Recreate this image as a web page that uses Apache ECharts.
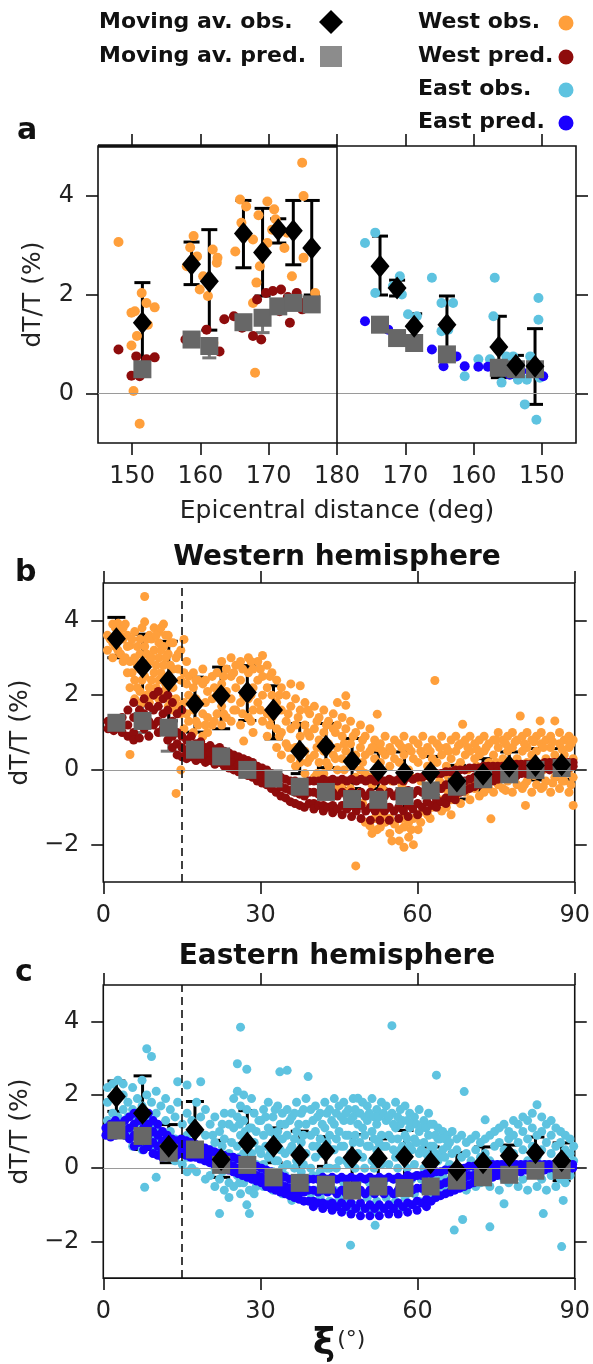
<!DOCTYPE html>
<html>
<head>
<meta charset="utf-8">
<script src="https://cdn.jsdelivr.net/npm/echarts@6/dist/echarts.min.js"></script>
<style>
  html, body { margin: 0; padding: 0; background: #fff; }
  #chart { width: 593px; height: 1364px; }
</style>
</head>
<body>
<div id="chart"></div>
<script>
// panel a: epicentral distance (deg), dT/T (%)
const aWestAvgDist = [151.5, 158.7, 161.3, 166.3, 169.1, 171.4, 173.6, 176.3];
const aWestAvgObs = [1.43, 2.61, 2.27, 3.23, 2.85, 3.31, 3.29, 2.94];
const aWestAvgObsLo = [0.62, 2.20, 1.28, 2.54, 1.97, 3.04, 2.60, 1.99];
const aWestAvgObsHi = [2.24, 3.06, 3.31, 3.90, 3.74, 3.53, 3.90, 3.90];
const aWestAvgPred = [0.49, 1.09, 0.96, 1.44, 1.53, 1.76, 1.83, 1.80];
const aWestAvgPredLo = [0.42, 1.00, 0.72, 1.38, 1.23, 1.70, 1.75, 1.72];
const aWestAvgPredHi = [0.56, 1.16, 1.10, 1.50, 1.62, 1.82, 1.90, 1.88];

const aEastAvgDist = [173.7, 171.2, 168.7, 163.9, 156.3, 153.8, 151.0];
const aEastAvgObs = [2.57, 2.13, 1.36, 1.39, 0.94, 0.57, 0.55];
const aEastAvgObsLo = [1.99, 1.97, 1.12, 0.79, 0.32, 0.35, -0.22];
const aEastAvgObsHi = [3.18, 2.29, 1.61, 1.97, 1.56, 0.77, 1.31];
const aEastAvgPred = [1.39, 1.12, 1.02, 0.79, 0.52, 0.49, 0.49];
const aEastAvgPredLo = [1.33, 1.06, 0.96, 0.73, 0.46, 0.43, 0.43];
const aEastAvgPredHi = [1.45, 1.18, 1.08, 0.85, 0.58, 0.55, 0.55];

const aWestObs = [[148.0,3.06],[150.2,0.05],[151.1,-0.61],[149.9,0.97],[149.9,1.63],[151.4,2.03],[152.1,1.83],[153.3,1.74],[150.7,1.16],[152.3,1.39],[150.4,1.66],[159.0,3.18],[159.5,2.77],[159.9,2.10],[158.0,2.57],[161.8,2.91],[162.5,2.74],[162.4,2.64],[160.4,2.37],[161.1,1.97],[161.9,1.02],[165.8,3.92],[165.1,2.87],[166.7,3.78],[167.7,3.11],[168.2,2.24],[168.0,0.42],[167.7,1.83],[169.8,3.88],[170.8,3.72],[171.0,3.52],[170.5,3.31],[169.8,3.04],[172.3,2.94],[173.4,2.37],[172.7,3.25],[174.9,4.66],[175.1,3.99],[175.1,2.74],[176.8,2.03],[168.7,2.57],[166.0,3.45],[168.5,3.60],[158.5,2.95]];
const aWestPred = [[148.0,0.89],[149.9,0.36],[151.1,0.35],[152.1,0.69],[153.3,0.73],[150.6,0.75],[157.8,1.09],[160.9,1.29],[162.8,0.85],[164.9,1.56],[166.1,1.33],[167.7,1.16],[168.9,1.09],[169.6,2.03],[170.6,2.07],[171.6,1.66],[173.1,1.43],[171.8,2.10],[174.1,2.03],[175.1,1.83],[172.8,1.95],[174.9,1.70],[163.5,1.50],[159.2,1.15],[168.3,1.90]];
const aEastObs = [[175.9,3.04],[174.4,3.25],[174.4,2.03],[170.8,2.37],[170.5,2.00],[168.3,1.56],[166.1,2.34],[164.7,1.83],[163.0,1.83],[164.7,1.26],[161.3,0.35],[159.3,0.69],[156.9,2.34],[157.1,1.56],[157.6,0.69],[155.9,0.22],[154.2,0.75],[153.5,0.28],[152.2,0.28],[152.5,-0.22],[150.8,-0.53],[150.5,1.93],[150.5,1.49],[150.3,0.32],[151.7,0.75],[155.2,0.75],[163.7,1.29],[169.6,1.60],[171.8,2.17]];
const aEastPred = [[175.9,1.46],[172.5,1.29],[166.1,0.89],[164.4,0.55],[162.5,0.75],[161.3,0.55],[159.3,0.54],[157.9,0.54],[154.7,0.38],[149.8,0.35],[151.3,0.49],[173.5,1.35],[170.5,1.10],[168.5,1.00],[156.0,0.50],[153.0,0.45]];

// panels b, c: xi (deg)
const xiBins = [2.5, 7.5, 12.5, 17.5, 22.5, 27.5, 32.5, 37.5, 42.5, 47.5, 52.5, 57.5, 62.5, 67.5, 72.5, 77.5, 82.5, 87.5];

const bAvgObs = [3.51, 2.75, 2.39, 1.76, 1.98, 2.07, 1.60, 0.50, 0.63, 0.23, -0.02, -0.08, -0.08, -0.30, -0.12, 0.10, 0.12, 0.14];
const bAvgObsLo = [3.00, 1.85, 1.31, 1.01, 1.10, 1.32, 0.83, -0.10, 0.06, -0.50, -0.50, -1.00, -0.68, -0.78, -0.54, -0.27, -0.27, -0.25];
const bAvgObsHi = [4.08, 3.63, 3.44, 2.48, 2.75, 2.79, 2.25, 1.24, 1.24, 0.84, 0.48, 0.48, 0.36, 0.12, 0.30, 0.48, 0.57, 0.57];
const bAvgPred = [1.26, 1.31, 1.13, 0.54, 0.36, 0.00, -0.23, -0.45, -0.59, -0.78, -0.80, -0.70, -0.55, -0.45, -0.25, -0.12, 0.00, 0.05];
const bAvgPredLo = [1.18, 1.00, 0.50, 0.45, 0.28, -0.08, -0.30, -0.55, -0.70, -0.90, -0.90, -0.80, -0.65, -0.55, -0.35, -0.20, -0.08, -0.02];
const bAvgPredHi = [1.34, 1.75, 1.85, 0.63, 0.44, 0.08, -0.16, -0.35, -0.48, -0.66, -0.70, -0.60, -0.45, -0.35, -0.15, -0.04, 0.08, 0.12];

const cAvgObs = [1.96, 1.50, 0.60, 1.05, 0.24, 0.69, 0.60, 0.36, 0.47, 0.29, 0.27, 0.31, 0.15, -0.05, 0.15, 0.34, 0.42, 0.20];
const cAvgObsLo = [1.55, 0.51, 0.15, 0.29, -0.25, -0.16, 0.15, -0.25, 0.05, -0.52, -0.25, -0.52, -0.25, -0.48, -0.30, 0.04, -0.03, -0.34];
const cAvgObsHi = [2.38, 2.52, 1.19, 1.82, 0.76, 1.57, 1.10, 1.01, 0.86, 0.92, 0.80, 1.03, 0.58, 0.42, 0.58, 0.63, 0.85, 0.69];
const cAvgPred = [1.03, 0.88, 0.42, 0.51, 0.09, 0.09, -0.25, -0.40, -0.45, -0.61, -0.50, -0.54, -0.50, -0.34, -0.25, -0.18, -0.07, -0.05];

// each row: [xi, dT/T, dT/T, ...]
const bWestObs = [
  [0.8,3.2,3.6],[1.8,3.9,3.0,3.4],[2.8,3.7,3.2,3.92],[3.8,3.5,2.9,3.8],[4.6,3.3,2.6,3.6],
  [5.1,3.33,0.41,2.2,2.9],[6.0,3.0,2.4,3.7,1.9],[7.0,3.5,2.7,2.1,3.1],[7.9,4.64,3.96,3.3,2.5],
  [8.8,3.6,2.9,2.2,1.8],[9.7,3.8,3.2,2.6,2.0],[10.6,3.7,3.0,2.4,1.9,3.4],[11.5,3.9,3.3,2.8,2.1],
  [12.4,3.6,3.1,2.5,1.7],[13.3,3.4,2.7,2.2,1.6],[13.9,-0.63,3.0,1.9],[14.8,0.0,3.2,2.4,1.5],
  [15.4,3.49,2.6,1.8,1.1],[16.3,2.5,2.0,1.3],[17.2,2.2,1.6,1.0,2.6],[18.1,2.4,1.8,1.2],
  [19.0,2.3,1.5,0.9,2.7],[19.9,2.1,1.4,1.0],[20.8,2.5,1.9,1.2,0.35],[21.7,2.6,2.0,1.5],
  [22.6,2.9,2.3,1.7,1.2],[23.5,2.7,2.1,1.4],[24.4,3.0,2.5,1.9,1.3],[25.3,2.8,2.2,1.6],
  [26.2,2.9,2.4,1.8,1.2],[26.8,0.77,2.0],[27.7,3.0,2.6,1.9,1.4],[28.6,2.7,2.2,1.6,1.0],
  [29.5,2.9,2.4,1.8],[30.4,3.06,2.5,2.0,1.3],[31.3,2.8,2.2,1.5,0.9],[32.2,2.6,2.0,1.4],
  [33.1,2.4,1.8,1.1,0.6],[34.0,2.2,1.6,1.0,0.4],[34.9,2.0,1.3,0.7],[35.8,2.3,1.7,1.1,0.3],
  [36.7,1.9,1.2,0.6,0.1],[37.6,2.25,1.6,0.9,0.2],[38.5,1.8,1.2,0.5,-0.1],[39.4,1.5,0.9,0.3],
  [40.3,1.7,1.1,0.4,-0.2],[41.2,1.4,0.8,0.2],[42.1,1.6,1.0,0.5,-0.1],[43.0,1.3,0.7,0.1,-0.3],
  [43.9,1.5,1.1,0.4],[44.7,1.8,1.2,0.6,0.0],[45.6,1.4,0.9,0.3,-0.4],[46.3,1.98,1.73,1.1,0.5],
  [47.2,1.3,0.7,0.2,-0.5],[48.2,-2.57,1.0,0.4,-0.2],[49.1,1.2,0.6,0.0,-0.6],[50.0,0.9,0.4,-0.1,-1.4],
  [50.9,1.1,0.5,-0.2,-1.5],[51.8,0.8,0.3,-1.3],[52.3,1.49,0.6,-1.6],[52.9,-1.53,0.7,0.2],
  [53.8,0.9,0.4,-1.4],[54.7,0.6,0.1,-1.3,-1.7],[55.6,0.8,0.3,-1.45],[56.5,0.7,0.2,-1.6,-1.9],
  [57.4,0.9,0.4,-1.53,-2.07],[58.3,0.6,0.0,-1.8,-1.4],[59.2,0.8,0.3,-2.0,-1.3],[60.1,0.7,0.2,-1.2,-1.6],
  [61.0,0.9,0.4,-1.1],[61.9,0.6,0.1,-1.2],[62.8,0.8,0.3,-1.0,-0.6],[63.3,2.39],[63.7,0.7,0.2,-0.9],
  [64.6,0.9,0.4,-1.1,-0.5],[65.5,0.6,0.1,-1.0],[66.4,0.8,0.3,-0.8,-1.2],[67.3,0.9,0.5,-0.7],
  [68.2,0.7,0.2,-0.9,-0.4],[68.6,1.22],[69.1,0.8,0.4,-0.6],[70.0,0.9,0.5,-0.8,-0.3],[70.9,0.7,0.3,-0.5],
  [71.8,0.8,0.4,-0.7,-0.2],[72.7,0.9,0.5,-0.6],[73.6,0.7,0.2,-0.5,-0.1],[74.0,-1.31],[74.5,0.8,0.4,-0.6],
  [75.4,1.0,0.6,-0.4,0.1],[76.3,0.8,0.3,-0.5],[77.2,0.9,0.5,-0.3,0.0],[78.1,1.0,0.6,-0.6],
  [79.0,0.8,0.3,-0.4,0.1],[79.6,1.44],[80.0,0.9,0.5,-0.5],[80.6,-0.95],[80.9,1.0,0.6,-0.3,0.2],
  [81.8,0.8,0.4,-0.6],[82.7,0.9,0.5,-0.4,0.0],[83.4,1.31],[83.6,1.0,0.7,-0.5],[84.5,0.8,0.3,-0.3,0.1],
  [85.4,0.9,0.6,-0.6],[86.2,1.31,0.4,-0.2],[87.1,1.0,0.7,-0.5,0.1],[88.0,0.8,0.4,-0.3],
  [88.9,0.9,0.6,-0.6,0.0],[89.7,-0.95,0.8,0.3,-0.2],
  // denser part of the cloud
  [1.3,3.5],[2.3,3.3,3.8],[3.3,3.1,3.6],[4.2,3.0,3.9],[5.5,2.6,3.5],[6.5,2.2,3.3,2.8],
  [7.4,1.8,2.4,3.8],[8.3,2.0,3.1,3.5],[9.2,2.4,3.0,3.5],[10.1,2.2,2.8,3.6],[11.0,2.0,2.6,3.2,3.8],
  [11.9,2.3,3.0,3.6],[12.8,1.9,2.8,3.4],[14.3,1.7,2.7,3.1],[15.9,1.5,2.3,2.9],[17.7,1.3,1.9,2.4],
  [19.5,1.2,1.8,2.4],[21.2,1.3,2.2],[23.0,1.5,2.5,2.0],[24.9,1.6,2.6],[26.6,1.5,2.7],
  [28.2,1.3,2.0,2.9],[30.0,1.6,2.7],[31.8,1.2,2.5],[33.6,0.9,2.0],[35.3,0.6,1.5],[37.2,0.5,1.4],
  [39.0,0.2,1.0,1.6],[40.8,1.3,0.6,-0.1],[42.6,1.2,0.2,-0.4],[44.3,1.0,0.3,-0.5],[46.0,0.7,0.0,-0.6],
  [47.7,0.9,0.1,-0.7],[49.5,0.8,0.2,-0.9],[51.3,0.6,-0.4,-1.7],[53.3,0.5,-0.5,-1.2],[55.1,0.5,-0.3,-1.9],
  [57.0,0.6,-0.4,-1.3],[58.8,0.5,-0.2,-1.6],[60.6,0.5,-0.3,-1.4],[62.4,0.5,-0.2,-1.3],[64.2,0.6,-0.3,-0.8],
  [65.9,0.5,-0.2,-0.6],[67.8,0.65,0.1,-0.4],[69.6,0.6,0.0,-0.45],[71.3,0.55,0.1,-0.3],[73.1,0.6,-0.1,-0.4],
  [75.0,0.8,0.2,-0.2],[76.8,0.7,0.1,-0.55],[78.6,0.75,0.2,-0.2],[80.4,0.7,0.0,-0.4],[82.2,0.75,0.25,-0.15],
  [84.0,0.6,0.0,-0.45],[85.8,0.75,0.2,-0.35],[87.6,0.55,0.0,-0.3],[89.3,0.7,0.15,-0.4]
];

const bWestPred = [
  [0.9,1.3,1.1],[2.0,1.25,1.05],[3.6,1.4,1.0],[4.7,1.6,1.2,0.9],[5.8,1.8,1.4,1.0,0.8],
  [6.9,1.6,1.2,0.85],[7.8,1.9,1.5,1.1],[8.7,1.7,1.3,0.9],[9.6,2.0,1.6,1.2],[10.5,2.1,1.7,1.3,1.0],
  [11.4,1.9,1.5,1.1],[12.3,2.0,1.6,1.2,0.8],[13.2,1.8,1.3,0.9,0.6],[14.1,1.5,1.0,0.7,0.4],
  [15.0,1.6,0.9,0.6,0.35],[15.9,0.8,0.5,0.3],[16.8,0.9,0.6,0.35],[17.7,0.7,0.45,0.25],
  [18.6,0.75,0.5,0.3],[19.5,0.6,0.4,0.2],[20.4,0.65,0.45,0.25],[21.3,0.55,0.35,0.15],
  [22.2,0.6,0.4,0.2],[23.1,0.5,0.3,0.1],[24.0,0.45,0.25,0.05],[24.9,0.4,0.2,0.0],
  [25.8,0.35,0.15,-0.05],[26.7,0.3,0.1,-0.1],[27.6,0.25,0.05,-0.15],[28.5,0.2,0.0,-0.2],
  [29.4,0.1,-0.1,-0.3],[30.3,0.05,-0.15,-0.35],[31.2,0.0,-0.2,-0.4],[32.1,-0.1,-0.3,-0.5],
  [33.0,-0.15,-0.35,-0.6],[33.9,-0.2,-0.45,-0.7],[34.8,-0.25,-0.5,-0.75],[35.7,-0.3,-0.55,-0.85],
  [36.6,-0.3,-0.6,-0.9],[37.5,-0.35,-0.65,-0.95],[38.4,-0.35,-0.7,-1.0],[39.3,-0.3,-0.6,-0.9],
  [40.2,-0.3,-0.6,-0.9,-1.05],[41.1,-0.3,-0.65,-0.95],[42.0,-0.25,-0.6,-0.95,-1.1],[42.9,-0.3,-0.65,-1.0],
  [43.8,-0.25,-0.6,-0.95,-1.15],[44.7,-0.3,-0.7,-1.05],[45.6,-0.25,-0.6,-0.95,-1.2],[46.5,-0.3,-0.7,-1.05],
  [47.4,-0.25,-0.6,-0.95,-1.25],[48.3,-0.3,-0.7,-1.1],[49.2,-0.25,-0.6,-0.95,-1.3],[50.1,-0.3,-0.7,-1.1],
  [51.0,-0.25,-0.6,-1.0,-1.35],[51.9,-0.3,-0.7,-1.1],[52.8,-0.25,-0.6,-1.0,-1.35],[53.7,-0.3,-0.7,-1.1],
  [54.6,-0.25,-0.6,-1.0,-1.35],[55.5,-0.3,-0.7,-1.1],[56.4,-0.25,-0.6,-1.0,-1.3],[57.3,-0.3,-0.7,-1.1],
  [58.2,-0.2,-0.55,-0.95,-1.25],[59.1,-0.25,-0.65,-1.05],[60.0,-0.2,-0.55,-0.9,-1.2],[60.9,-0.2,-0.6,-1.0],
  [61.8,-0.15,-0.5,-0.85,-1.1],[62.7,-0.15,-0.55,-0.95],[63.6,-0.1,-0.45,-0.8,-1.0],[64.5,-0.1,-0.5,-0.85],
  [65.4,-0.05,-0.4,-0.75,-0.9],[66.3,-0.05,-0.4,-0.75],[67.2,0.0,-0.35,-0.65,-0.8],[68.1,0.0,-0.3,-0.6],
  [69.0,0.0,-0.3,-0.55],[69.9,0.05,-0.25,-0.5],[70.8,0.05,-0.2,-0.45],[71.7,0.05,-0.2,-0.4],
  [72.6,0.1,-0.15,-0.35],[73.5,0.1,-0.1,-0.3],[74.4,0.1,-0.1,-0.3],[75.3,0.1,-0.05,-0.25],
  [76.2,0.1,-0.05,-0.2],[77.1,0.1,0.0,-0.2],[78.0,0.15,0.0,-0.15],[78.9,0.15,0.0,-0.15],
  [79.8,0.15,0.0,-0.1],[80.7,0.15,0.05,-0.1],[81.6,0.15,0.05,-0.05],[82.5,0.15,0.05],
  [83.4,0.15,0.05,-0.05],[84.3,0.2,0.05],[85.2,0.2,0.1,0.0],[86.1,0.2,0.1],[87.0,0.2,0.1,0.0],
  [87.9,0.2,0.1],[88.8,0.2,0.1,0.05],[89.7,0.2,0.1]
];

const cEastObs = [
  [0.8,1.3,1.8,2.2],[1.8,2.3,1.5,1.1],[2.8,2.4,1.9,1.4],[3.8,2.0,1.6,1.2,2.3],[4.7,1.8,1.4,0.9],
  [5.6,2.2,1.6,1.0,0.6],[6.5,1.9,1.3,0.8],[7.4,2.4,1.7,1.2,0.5],[7.9,-0.52],[8.3,3.26,2.0,1.4,0.9],
  [9.2,3.05,1.8,1.1,0.6],[10.1,-0.25,2.1,1.5,0.8,0.4],[11.0,1.7,1.0,0.5],[11.9,1.9,1.3,0.7,0.3],
  [12.8,1.6,1.0,0.4],[13.7,1.4,0.8,0.2],[14.2,2.36,1.8],[15.1,1.2,0.6,0.1],[16.0,2.27,1.5,0.9,0.3,-0.1],
  [16.9,1.3,0.7,0.0],[17.8,1.8,1.0,0.4,-0.1],[18.6,2.36,1.4,0.6],[19.5,1.6,0.9,0.2,-0.3],
  [20.4,1.2,0.5,-0.2],[21.3,1.4,0.7,0.0,-0.5],[22.2,-1.24,1.0,0.3,-0.3],[23.1,1.5,0.8,0.1,-0.6],
  [24.0,1.2,0.4,-0.4,-0.8],[24.9,1.9,1.1,0.2,-0.5],[25.6,2.85,2.1,1.4,0.6,-0.2],[26.2,3.85,1.7,0.9,-0.7],
  [26.8,2.0,1.3,0.4,-0.4],[27.4,2.7,1.6,0.8,-1.0],[27.9,-1.24,1.1,0.0,-0.6],[28.8,1.5,0.7,-0.2,-0.7],
  [29.7,1.3,0.5,-0.3],[30.6,1.6,0.9,0.1,-0.5],[31.5,1.8,1.1,0.3,-0.4],[32.4,1.4,0.7,-0.1,-0.6],
  [33.3,1.7,1.0,0.2,-0.5],[33.7,2.63],[34.2,1.5,0.8,0.0,-0.7],[35.1,2.67,1.6,0.9,0.1],
  [36.0,1.4,0.6,-0.3,-0.88],[36.9,1.8,1.0,0.2,-0.6],[37.8,1.5,0.7,-0.1],[38.7,1.9,1.2,0.4,-0.5],
  [39.1,2.5],[39.6,1.6,0.9,0.0,-0.7],[40.5,1.7,1.0,0.3,-0.6],[41.4,1.5,0.8,-0.1,-0.8],
  [42.3,1.8,1.1,0.4,-0.5],[43.2,1.6,0.9,0.0,-0.9],[44.1,1.9,1.2,0.5,-0.6],[45.0,1.7,1.0,0.2,-0.8,-1.0],
  [45.9,1.8,1.3,0.6,-0.4],[46.8,1.6,0.9,0.1,-0.9],[47.2,-2.1,-1.2],[47.7,1.9,1.4,0.7,-1.0],
  [48.6,1.91,1.2,0.4,-0.7],[49.5,1.8,1.1,0.3,-1.1],[50.4,1.7,1.3,0.6,-0.8],[51.3,1.9,1.0,0.2,-1.2],
  [51.9,-1.56],[52.2,1.6,1.2,0.5,-0.9],[53.1,1.8,0.9,0.1,-1.1],[54.0,1.7,1.3,0.6,-0.8],
  [55.1,3.89,1.5,0.8,-1.0],[55.8,1.8,1.1,0.3,-0.9],[56.7,1.6,1.2,0.5,-1.1],[57.6,1.7,0.9,0.2,-0.8],
  [58.5,1.5,1.1,0.6,-1.0],[59.4,1.4,0.8,0.1,-0.7],[60.3,1.6,1.0,0.4,-0.9],[61.2,1.3,0.7,0.0,-0.6],
  [62.1,1.5,0.9,0.3,-0.8],[63.0,1.2,0.6,-0.1,-0.5],[63.6,2.54],[63.9,1.1,0.8,0.2,-0.7],
  [64.8,1.0,0.5,-0.2,-0.4],[65.7,0.9,0.6,0.0,-0.6],[66.6,1.0,0.4,-0.3],[67.0,-1.69],
  [67.5,0.8,0.5,-0.1,-0.5],[68.4,0.9,0.3,-0.4],[68.6,-1.4],[68.9,2.09],[69.3,0.7,0.4,0.0,-0.6],
  [70.2,0.8,0.2,-0.3],[71.1,0.9,0.5,-0.1,-0.5],[72.0,0.7,0.3,-0.4],[72.9,1.32,0.8,0.4,0.0],
  [73.8,-1.6,0.9,0.2,-0.5],[74.7,1.0,0.6,-0.2],[75.6,1.1,0.7,0.1,-0.6],[76.5,-0.97,1.2,0.5,-0.3],
  [77.4,1.0,0.8,0.2,-0.4],[78.3,1.3,0.9,0.4,-0.2],[79.2,1.2,0.7,0.0,-0.5],[80.1,1.4,1.0,0.5,-0.3],
  [81.0,1.3,0.8,0.2,-0.6],[81.9,1.5,1.1,0.6,-0.1],[82.8,1.73,0.9,0.3,-0.5],[83.7,1.4,1.0,0.5,-0.3],
  [84.0,-1.24],[84.6,1.2,0.7,0.1,-0.6],[85.5,1.3,0.9,0.4,-0.2],[86.4,1.1,0.6,0.0,-0.5],
  [87.3,1.0,0.7,0.3,-0.3],[87.5,-2.14],[87.8,-0.88],[88.2,0.9,0.5,0.0,-0.4],[89.1,0.8,0.4,-0.2],
  [89.8,0.6,0.2],
  // denser part of the cloud
  [20.9,0.9,0.2],[22.7,1.2,0.6,-0.1],[24.5,1.5,0.7,0.0],[26.0,1.2,0.3,-0.4],[27.1,1.0,0.2],
  [28.3,1.9,1.1,0.4,-0.3],[29.2,1.0,0.1,-0.5],[30.1,1.3,0.4,-0.2],[31.0,1.4,0.6,-0.1],[31.9,1.0,0.4,-0.3],
  [32.8,1.6,0.9,0.2],[33.8,1.2,0.5,-0.3],[34.7,1.2,0.4,-0.2],[35.6,1.3,0.5,-0.5],[36.5,1.5,0.8,0.0],
  [37.3,1.2,0.4,-0.4],[38.2,1.6,0.9,0.1],[40.0,1.3,0.6,-0.2],[40.9,1.4,0.6,-0.3],[41.8,1.2,0.4,-0.4],
  [42.7,1.5,0.7,0.0],[43.6,1.3,0.5,-0.3],[44.5,1.5,0.8,0.0],[45.4,1.4,0.6,-0.3],[46.3,1.5,0.9,0.2],
  [47.2,1.3,0.4,-0.5],[48.1,1.6,0.9,0.0],[49.0,1.5,0.7,-0.3],[49.9,1.4,0.9,0.0],[50.8,1.5,0.6,-0.4],
  [51.7,1.4,0.8,0.0],[52.6,1.4,0.7,-0.3],[53.5,1.5,0.6,-0.4],[54.5,1.4,0.9,0.1],[55.4,1.2,0.5,-0.3],
  [56.2,1.4,0.8,0.0],[57.1,1.3,0.6,-0.4],[58.0,1.3,0.8,0.0],[58.9,1.2,0.5,-0.3],[59.8,1.2,0.7,-0.2],
  [60.7,1.1,0.5,-0.3],[61.6,1.1,0.4,-0.2],[62.5,1.2,0.6,0.0],[63.4,0.9,0.4,-0.3],[64.3,0.8,0.3,-0.5],
  [65.2,0.8,0.3,-0.3],[66.1,0.7,0.1,-0.5]
];

const cEastPred = [
  [0.5,1.1,0.9],[1.4,1.2,1.0,0.85],[2.3,1.3,1.1,0.9],[3.2,1.2,1.0],[4.1,1.3,1.05,0.9],
  [5.0,1.4,1.1,0.8],[5.9,1.5,1.2,0.9,0.6],[6.8,1.3,1.0,0.7],[7.7,1.4,1.1,0.8,0.5],[8.6,1.5,1.2,0.9,0.6],
  [9.5,1.3,1.0,0.7,0.4],[10.4,1.2,0.9,0.6,0.35],[11.3,1.0,0.75,0.5,0.3],[12.2,0.9,0.65,0.4],
  [13.1,0.8,0.55,0.35],[14.0,0.75,0.55,0.35],[14.9,0.8,0.6,0.4],[15.8,0.75,0.55,0.35],
  [16.7,0.7,0.5,0.3],[17.6,0.65,0.45,0.3],[18.5,0.6,0.4,0.25],[19.4,0.55,0.35,0.2],
  [20.3,0.5,0.3,0.15],[21.2,0.45,0.25,0.1],[22.1,0.4,0.2,0.05],[23.0,0.35,0.15,0.0],
  [23.9,0.3,0.1,-0.05],[24.8,0.3,0.05,-0.1],[25.7,0.25,0.0,-0.15],[26.6,0.2,-0.05,-0.2],
  [27.5,0.15,-0.1,-0.25],[28.4,0.1,-0.15,-0.3],[29.3,0.05,-0.2,-0.35],[30.2,0.0,-0.25,-0.4],
  [31.1,-0.05,-0.3,-0.5],[32.0,-0.1,-0.35,-0.55],[32.9,-0.15,-0.4,-0.6],[33.8,-0.2,-0.45,-0.65],
  [34.7,-0.25,-0.5,-0.7],[35.6,-0.3,-0.55,-0.75],[36.5,-0.3,-0.6,-0.8],[37.4,-0.35,-0.65,-0.85],
  [38.3,-0.35,-0.65,-0.9],[39.2,-0.3,-0.6,-0.9],[40.1,-0.3,-0.6,-0.9,-1.05],[41.0,-0.3,-0.65,-0.95],
  [41.9,-0.25,-0.6,-0.95,-1.1],[42.8,-0.3,-0.65,-1.0],[43.7,-0.25,-0.6,-0.95,-1.15],[44.6,-0.3,-0.7,-1.05],
  [45.5,-0.25,-0.6,-0.95,-1.2],[46.4,-0.3,-0.7,-1.05],[47.3,-0.25,-0.6,-0.95,-1.25],[48.2,-0.3,-0.7,-1.1],
  [49.1,-0.25,-0.6,-0.95,-1.3],[50.0,-0.3,-0.7,-1.1],[50.9,-0.25,-0.6,-1.0,-1.3],[51.8,-0.3,-0.7,-1.1],
  [52.7,-0.25,-0.6,-1.0,-1.3],[53.6,-0.3,-0.7,-1.1],[54.5,-0.25,-0.6,-1.0,-1.25],[55.4,-0.3,-0.7,-1.1],
  [56.3,-0.25,-0.6,-0.95,-1.25],[57.2,-0.3,-0.65,-1.05],[58.1,-0.2,-0.55,-0.95,-1.2],[59.0,-0.25,-0.6,-1.0],
  [59.9,-0.2,-0.55,-0.9,-1.15],[60.8,-0.2,-0.55,-0.95],[61.7,-0.15,-0.5,-0.85,-1.05],[62.6,-0.15,-0.5,-0.9],
  [63.5,-0.1,-0.45,-0.8],[64.4,-0.1,-0.45,-0.75],[65.3,-0.05,-0.4,-0.7],[66.2,-0.05,-0.35,-0.65],
  [67.1,0.0,-0.3,-0.6],[68.0,0.0,-0.3,-0.55],[68.9,0.0,-0.25,-0.5],[69.8,0.05,-0.2,-0.45],
  [70.7,0.05,-0.2,-0.4],[71.6,0.05,-0.15,-0.35],[72.5,0.05,-0.15,-0.3],[73.4,0.1,-0.1,-0.3],
  [74.3,0.1,-0.1,-0.25],[75.2,0.1,-0.05,-0.2],[76.1,0.1,-0.05,-0.2],[77.0,0.1,0.0,-0.15],
  [77.9,0.1,0.0,-0.15],[78.8,0.1,0.0,-0.1],[79.7,0.1,0.0,-0.1],[80.6,0.1,0.0,-0.05],[81.5,0.1,0.0],
  [82.4,0.1,0.0,-0.05],[83.3,0.1,0.0],[84.2,0.1,0.0,-0.05],[85.1,0.1,0.0],[86.0,0.1,0.0],
  [86.9,0.1,0.0],[87.8,0.1,0.0],[88.7,0.1,0.0],[89.6,0.1,0.0]
];

const FONT = 'DejaVu Sans';
const ORANGE = '#FF9F3B', DARKRED = '#8E0C0C', LIGHTBLUE = '#5EC3E0', BLUE = '#1A00FF';
const SQUARE = '#676767';

function rowsToPoints(rows) {
  const pts = [];
  rows.forEach(r => { for (let i = 1; i < r.length; i++) pts.push([r[0], r[i]]); });
  return pts;
}
// east side of panel a is folded about 180 deg
const unfold = d => 360 - d;

function errorBars(color, width, cap) {
  return function (params, api) {
    const x = api.value(0);
    const lo = api.coord([x, api.value(1)]);
    const hi = api.coord([x, api.value(2)]);
    const style = { stroke: color, lineWidth: width };
    return {
      type: 'group',
      children: [
        { type: 'line', shape: { x1: lo[0], y1: lo[1], x2: hi[0], y2: hi[1] }, style },
        { type: 'line', shape: { x1: hi[0] - cap, y1: hi[1], x2: hi[0] + cap, y2: hi[1] }, style },
        { type: 'line', shape: { x1: lo[0] - cap, y1: lo[1], x2: lo[0] + cap, y2: lo[1] }, style }
      ]
    };
  };
}

function dots(name, data, color, size, ax) {
  return { name, type: 'scatter', xAxisIndex: ax, yAxisIndex: ax, data, symbol: 'circle',
    symbolSize: size, itemStyle: { color, opacity: 1 }, silent: true };
}
function bars(data, color, width, cap, ax) {
  return { type: 'custom', xAxisIndex: ax, yAxisIndex: ax, data, encode: { x: 0, y: [1, 2] },
    renderItem: errorBars(color, width, cap), silent: true };
}
function squares(data, ax) {
  return { name: 'Moving av. pred.', type: 'scatter', xAxisIndex: ax, yAxisIndex: ax, data,
    symbol: 'rect', symbolSize: 18, itemStyle: { color: SQUARE, opacity: 1 }, silent: true };
}
function diamonds(data, ax) {
  return { name: 'Moving av. obs.', type: 'scatter', xAxisIndex: ax, yAxisIndex: ax, data,
    symbol: 'diamond', symbolSize: [19, 23], itemStyle: { color: '#000', opacity: 1 }, silent: true };
}
function lines(data) {
  return { silent: true, symbol: ['none', 'none'], label: { show: false }, animation: false, data };
}

const zip2 = (xs, ys) => xs.map((x, i) => [x, ys[i]]);
const zip3 = (xs, lo, hi) => xs.map((x, i) => [x, lo[i], hi[i]]);

const minus = v => (v < 0 ? '\u2212' + (-v) : String(v));
const labelStyle = { fontFamily: FONT, fontSize: 24, color: '#222' };
// the frame is the grid border, axes only carry ticks and labels
const axisLine = () => ({ show: false, onZero: false });
const axisTick = () => ({ show: true, inside: false, length: 12, lineStyle: { color: '#111', width: 1.6 } });

function xPair(min, max, opts) {
  const bottom = Object.assign({
    type: 'value', position: 'bottom', min, max, gridIndex: opts.grid,
    axisLine: axisLine(), splitLine: { show: false },
    axisTick: Object.assign(axisTick(), opts.ticks ? { customValues: opts.ticks } : {}),
    axisLabel: Object.assign({ margin: 22, formatter: opts.fmt }, labelStyle, opts.ticks ? { customValues: opts.ticks } : {})
  }, opts.extra || {});
  if (opts.interval) bottom.interval = opts.interval;
  const top = {
    type: 'value', position: 'top', min, max, gridIndex: opts.grid,
    axisLine: axisLine(), splitLine: { show: false }, axisLabel: { show: false },
    axisTick: Object.assign(axisTick(), opts.ticks ? { customValues: opts.ticks } : {})
  };
  if (opts.interval) top.interval = opts.interval;
  return [bottom, top];
}
function yPair(min, max, ticks, grid) {
  return [
    { type: 'value', position: 'left', min, max, gridIndex: grid, axisLine: axisLine(), splitLine: { show: false },
      axisTick: Object.assign(axisTick(), { customValues: ticks }),
      axisLabel: Object.assign({ margin: 24, formatter: minus, customValues: ticks }, labelStyle),
      name: 'dT/T (%)', nameLocation: 'middle', nameRotate: 90, nameGap: 52,
      nameTextStyle: { fontFamily: FONT, fontSize: 25, color: '#222' } },
    { type: 'value', position: 'right', min, max, gridIndex: grid, axisLine: axisLine(), splitLine: { show: false },
      axisTick: Object.assign(axisTick(), { customValues: ticks }), axisLabel: { show: false } }
  ];
}

function dragChart() {
  const myChart = echarts.init(document.getElementById('chart'));
  const distTicks = [150, 160, 170, 180, 190, 200, 210];

  const xAxes = [].concat(
    xPair(145, 215, { grid: 0, ticks: distTicks, fmt: v => (v <= 180 ? v : 360 - v),
      extra: { name: 'Epicentral distance (deg)', nameLocation: 'middle', nameGap: 56,
        nameTextStyle: { fontFamily: FONT, fontSize: 25, color: '#222' } } }),
    xPair(0, 90, { grid: 1, interval: 30 }),
    xPair(0, 90, { grid: 2, interval: 30,
      extra: { name: '{xi|ξ}{deg|(°)}', nameLocation: 'middle', nameGap: 44,
        nameTextStyle: { color: '#222', rich: {
          xi: { fontFamily: FONT, fontSize: 38, fontWeight: 'bold', color: '#111' },
          deg: { fontFamily: FONT, fontSize: 22, color: '#222', padding: [0, 0, 8, 2] } } } } })
  );
  const yAxes = [].concat(
    yPair(-1, 5, [0, 2, 4], 0),
    yPair(-3, 5, [-2, 0, 2, 4], 1),
    yPair(-3, 5, [-2, 0, 2, 4], 2)
  );
  // axis index k*2 belongs to grid k
  const A = 0, B = 2, C = 4;

  const zeroLine = { yAxis: 0, lineStyle: { color: '#9a9a9a', width: 1.2, type: 'solid' } };
  const dashed15 = { xAxis: 15, lineStyle: { color: '#111', width: 1.6, type: [8, 5] } };

  const aWest = dots('West obs.', aWestObs, ORANGE, 10, A);
  aWest.markLine = lines([
    zeroLine,
    { xAxis: 180, lineStyle: { color: '#111', width: 1.6, type: 'solid' } },
    [{ coord: [145, 5], lineStyle: { color: '#111', width: 3.5, type: 'solid' } }, { coord: [180, 5] }]
  ]);
  const bWest = dots('West obs.', rowsToPoints(bWestObs), ORANGE, 9, B);
  bWest.markLine = lines([zeroLine, dashed15]);
  const cEast = dots('East obs.', rowsToPoints(cEastObs), LIGHTBLUE, 9, C);
  cEast.markLine = lines([zeroLine, dashed15]);

  const series = [
    // panel a
    aWest,
    dots('East obs.', aEastObs.map(p => [unfold(p[0]), p[1]]), LIGHTBLUE, 10, A),
    dots('West pred.', aWestPred, DARKRED, 10, A),
    dots('East pred.', aEastPred.map(p => [unfold(p[0]), p[1]]), BLUE, 10, A),
    bars(zip3(aWestAvgDist, aWestAvgPredLo, aWestAvgPredHi)
      .concat(zip3(aEastAvgDist.map(unfold), aEastAvgPredLo, aEastAvgPredHi)), '#777', 3, 7, A),
    squares(zip2(aWestAvgDist, aWestAvgPred).concat(zip2(aEastAvgDist.map(unfold), aEastAvgPred)), A),
    bars(zip3(aWestAvgDist, aWestAvgObsLo, aWestAvgObsHi)
      .concat(zip3(aEastAvgDist.map(unfold), aEastAvgObsLo, aEastAvgObsHi)), '#000', 3, 8, A),
    diamonds(zip2(aWestAvgDist, aWestAvgObs).concat(zip2(aEastAvgDist.map(unfold), aEastAvgObs)), A),
    // panel b
    bWest,
    dots('West pred.', rowsToPoints(bWestPred), DARKRED, 9, B),
    bars(zip3(xiBins, bAvgPredLo, bAvgPredHi), '#777', 3, 8, B),
    squares(zip2(xiBins, bAvgPred), B),
    bars(zip3(xiBins, bAvgObsLo, bAvgObsHi), '#000', 3, 9, B),
    diamonds(zip2(xiBins, bAvgObs), B),
    // panel c
    cEast,
    dots('East pred.', rowsToPoints(cEastPred), BLUE, 9, C),
    squares(zip2(xiBins, cAvgPred), C),
    bars(zip3(xiBins, cAvgObsLo, cAvgObsHi), '#000', 3, 9, C),
    diamonds(zip2(xiBins, cAvgObs), C)
  ];

  // legend drawn as graphic so that the text is left aligned and the keys sit in one column
  const text = (str, x, y, size, weight, align) => ({
    type: 'text', x, y, silent: true,
    style: { text: str, fontFamily: FONT, fontSize: size, fontWeight: weight, fill: '#111',
      align: align, verticalAlign: 'middle' }
  });
  const legendRows = [22, 56, 89, 122];
  const key = [
    text('Moving av. obs.', 99, legendRows[0], 22, 'bold', 'left'),
    { type: 'polygon', silent: true, shape: { points: [[331, 10], [343, 22], [331, 34], [319, 22]] }, style: { fill: '#000' } },
    text('Moving av. pred.', 99, legendRows[1], 22, 'bold', 'left'),
    { type: 'rect', silent: true, shape: { x: 320, y: 46, width: 22, height: 21 }, style: { fill: '#8c8c8c' } },
    text('West obs.', 418, legendRows[0], 22, 'bold', 'left'),
    text('West pred.', 418, legendRows[1], 22, 'bold', 'left'),
    text('East obs.', 418, legendRows[2], 22, 'bold', 'left'),
    text('East pred.', 418, legendRows[3], 22, 'bold', 'left')
  ];
  [ORANGE, DARKRED, LIGHTBLUE, BLUE].forEach((c, i) => {
    key.push({ type: 'circle', silent: true, shape: { cx: 566, cy: legendRows[i] + 1, r: 7.5 }, style: { fill: c } });
  });

  const frame = { show: true, borderColor: '#111', borderWidth: 1.6, backgroundColor: 'transparent' };
  const options = {
    backgroundColor: '#fff',
    animation: false,
    grid: [
      Object.assign({ left: 98, top: 146, width: 478, height: 297 }, frame),
      Object.assign({ left: 98, top: 583, width: 478, height: 299 }, frame),
      Object.assign({ left: 98, top: 985, width: 478, height: 297 }, frame)
    ],
    xAxis: xAxes,
    yAxis: yAxes,
    graphic: key.concat([
      text('a', 17, 131, 30, 'bold', 'left'),
      text('b', 15, 573, 30, 'bold', 'left'),
      text('c', 15, 973, 30, 'bold', 'left'),
      text('Western hemisphere', 337, 558, 28, 'bold', 'center'),
      text('Eastern hemisphere', 337, 957, 28, 'bold', 'center')
    ]),
    series
  };
  myChart.setOption(options);
}

dragChart();
</script>
</body>
</html>
